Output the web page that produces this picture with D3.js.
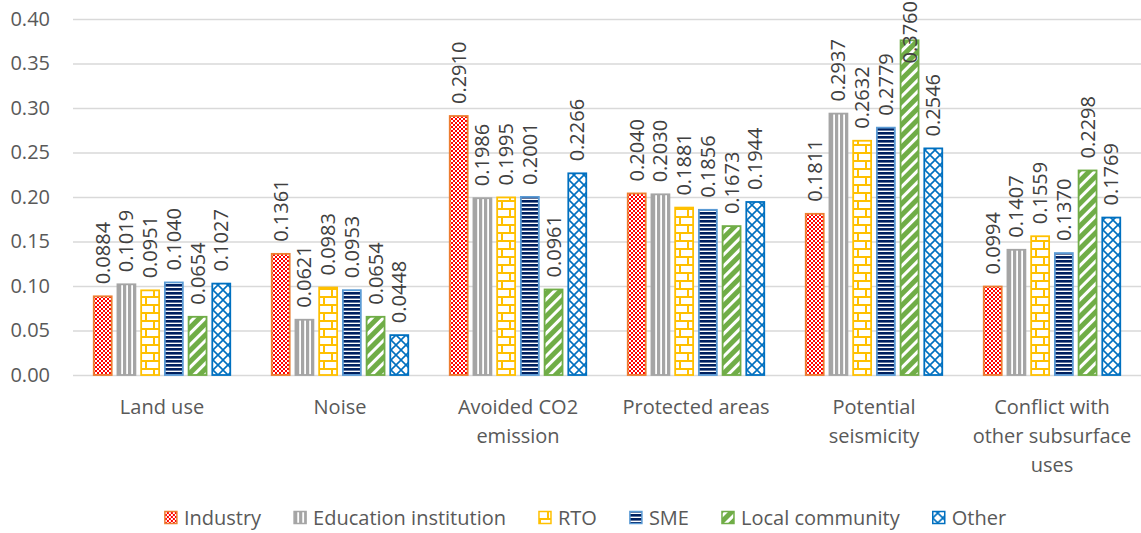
<!DOCTYPE html>
<html><head><meta charset="utf-8">
<script src="https://cdn.jsdelivr.net/npm/d3@7"></script>
<style>
html,body{margin:0;padding:0;background:#fff;}
svg text{font-family:"Open Sans","Noto Sans",sans-serif;}
</style></head>
<body><svg id="c" width="1141" height="533"></svg>
<script>
const categories = ["Land use","Noise","Avoided CO2 emission","Protected areas","Potential seismicity","Conflict with other subsurface uses"];
const categoryLines = [["Land use"],["Noise"],["Avoided CO2","emission"],["Protected areas"],["Potential","seismicity"],["Conflict with","other subsurface","uses"]];
const seriesNames = ["Industry","Education institution","RTO","SME","Local community","Other"];
const industry   = [0.0884,0.1361,0.2910,0.2040,0.1811,0.0994];
const education  = [0.1019,0.0621,0.1986,0.2030,0.2937,0.1407];
const rto        = [0.0951,0.0983,0.1995,0.1881,0.2632,0.1559];
const sme        = [0.1040,0.0953,0.2001,0.1856,0.2779,0.1370];
const local      = [0.0654,0.0654,0.0961,0.1673,0.3760,0.2298];
const other      = [0.1027,0.0448,0.2266,0.1944,0.2546,0.1769];
const yTicks = [0,0.05,0.10,0.15,0.20,0.25,0.30,0.35,0.40];

const seriesValues = [industry,education,rto,sme,local,other];
const strokeColors = ["#ED7D31","#A5A5A5","#FFC000","#5B9BD5","#70AD47","#0070C0"];

const svg = d3.select("#c");
const margin = {left:73,right:0,top:19,bottom:158};
const W = 1141, H = 533;
const x0 = d3.scaleBand().domain(categories).range([margin.left, W-margin.right]).padding(0);
const x1 = d3.scaleBand().domain(seriesNames).range([20, x0.bandwidth()-20]).paddingInner(0.18).paddingOuter(0);
const y = d3.scaleLinear().domain([0,0.40]).range([H-margin.bottom, margin.top]);

// patterns
const defs = svg.append("defs");
function pat(id,w,h,draw,rot){
  const p = defs.append("pattern").attr("id",id).attr("patternUnits","userSpaceOnUse").attr("width",w).attr("height",h);
  if(rot) p.attr("patternTransform","rotate("+rot+")");
  p.append("rect").attr("width",w).attr("height",h).attr("fill","#fff");
  draw(p);
}
// Industry: red checker
pat("p0",4,4,p=>{p.append("rect").attr("width",2).attr("height",2).attr("fill","#FF0000");p.append("rect").attr("x",2).attr("y",2).attr("width",2).attr("height",2).attr("fill","#FF0000");});
// Education: vertical lines
pat("p1",5,5,p=>{p.append("rect").attr("width",3.2).attr("height",5).attr("fill","#A5A5A5");});
// RTO: brick
pat("p2",16,16,p=>{
  p.append("rect").attr("x",0).attr("y",0).attr("width",16).attr("height",2).attr("fill","#FFC000");
  p.append("rect").attr("x",0).attr("y",8).attr("width",16).attr("height",2).attr("fill","#FFC000");
  p.append("rect").attr("x",0).attr("y",0).attr("width",2).attr("height",8).attr("fill","#FFC000");
  p.append("rect").attr("x",8).attr("y",8).attr("width",2).attr("height",8).attr("fill","#FFC000");
});
// SME: horizontal navy lines
pat("p3",4,4,p=>{p.append("rect").attr("width",4).attr("height",2.6).attr("fill","#002060");});
// Local: wide upward diagonal
pat("p4",8,8,p=>{p.append("rect").attr("width",5).attr("height",8).attr("fill","#70AD47");},45);
// Other: diamond lattice
pat("p5",10,10,p=>{
  p.append("path").attr("d","M0,0L10,10M10,0L0,10").attr("stroke","#0070C0").attr("stroke-width",1.6);
});

// grid & y axis
const yAxis = d3.axisLeft(y).tickValues(yTicks).tickFormat(d3.format(".2f")).tickSize(-(W-margin.left-margin.right)).tickPadding(23);
const gy = svg.append("g").attr("transform",`translate(${margin.left},0)`).call(yAxis);
gy.select(".domain").remove();
gy.selectAll(".tick line").attr("stroke","#D9D9D9").attr("stroke-width",1.3);
gy.selectAll(".tick text").attr("fill","#595959").style("font-size","20px");

// bars
const groups = svg.append("g").selectAll("g").data(categories).join("g")
  .attr("transform",d=>`translate(${x0(d)},0)`);
const barData = (c,ci)=>seriesNames.map((s,si)=>({s,si,v:seriesValues[si][ci]}));
groups.each(function(c,ci){
  const g = d3.select(this);
  const bd = barData(c,ci);
  g.selectAll("rect").data(bd).join("rect")
    .attr("x",d=>x1(d.s)+0.75).attr("width",x1.bandwidth()-1.5)
    .attr("y",d=>y(d.v)).attr("height",d=>y(0)-y(d.v))
    .attr("fill",d=>`url(#p${d.si})`).attr("stroke",d=>strokeColors[d.si]).attr("stroke-width",1.8);
  g.selectAll("text.lbl").data(bd).join("text").attr("class","lbl")
    .text(d=>d.v.toFixed(4))
    .attr("fill","#404040").style("font-size","20px")
    .each(function(d){
      const t = d3.select(this);
      const len = this.getComputedTextLength();
      const start = Math.max(y(d.v)-12, len+1);
      const cx = x1(d.s)+x1.bandwidth()/2;
      t.attr("transform",`translate(${cx},${start}) rotate(-90)`).attr("dy","0.35em");
    });
});

// category labels
const gx = svg.append("g");
categories.forEach((c,i)=>{
  const t = gx.append("text").attr("x",x0(c)+x0.bandwidth()/2).attr("y",414)
    .attr("text-anchor","middle").attr("fill","#595959").style("font-size","20px");
  categoryLines[i].forEach((l,li)=>{
    t.append("tspan").attr("x",x0(c)+x0.bandwidth()/2).attr("dy",li===0?0:29).text(l);
  });
});

// legend
const leg = svg.append("g");
let lx = 0;
const gap = 33;
seriesNames.forEach((s,i)=>{
  const g = leg.append("g");
  g.append("rect").attr("x",0).attr("y",-6.5).attr("width",12).attr("height",12)
    .attr("fill",`url(#p${i})`).attr("stroke",strokeColors[i]).attr("stroke-width",1.5);
  const t = g.append("text").attr("x",19).attr("y",0).attr("dy","0.35em").attr("fill","#595959").style("font-size","20px").text(s);
  const w = 19 + t.node().getComputedTextLength();
  g.attr("transform",`translate(${lx},518)`);
  lx += w + gap;
});
const totalW = lx - gap;
leg.attr("transform",`translate(${(W - totalW)/2 + 15},0)`);
</script></body></html>
